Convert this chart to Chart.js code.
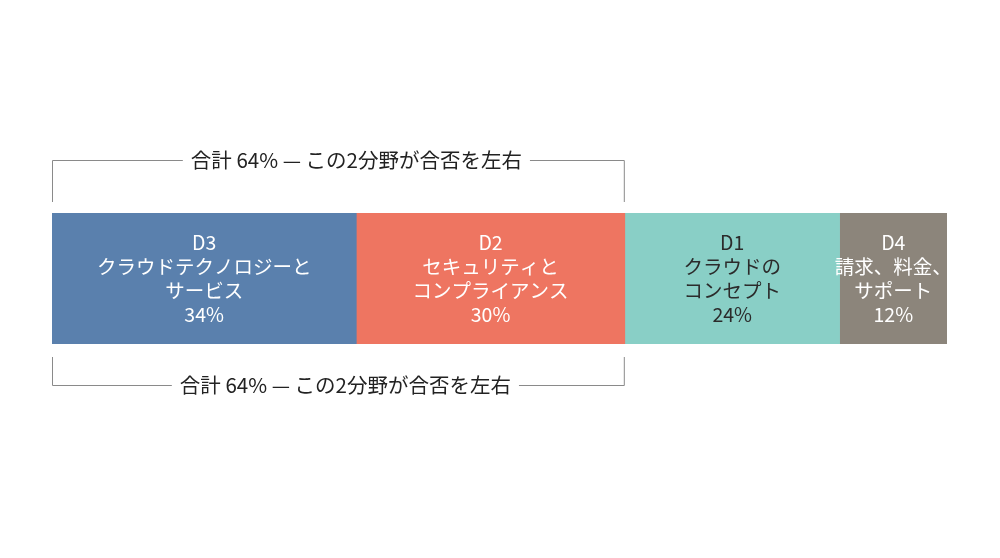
<!DOCTYPE html>
<html>
<head>
<meta charset="utf-8">
<script src="https://cdn.jsdelivr.net/npm/chart.js@4"></script>
<style>
  body { margin: 0; background: #fff; }
  #wrap { width: 1000px; height: 558px; position: relative; }
</style>
</head>
<body>
<div id="wrap"><canvas id="myChart"></canvas></div>
<script>
const ctx = document.getElementById("myChart");

const codes = ["D3", "D2", "D1", "D4"];
const names = [
  ["クラウドテクノロジーと", "サービス"],
  ["セキュリティと", "コンプライアンス"],
  ["クラウドの", "コンセプト"],
  ["請求、料金、", "サポート"],
];
const shares = [34, 30, 24, 12];
const colors = ["#5a80ad", "#ee7561", "#89cfc6", "#8c857b"];
const textColors = ["#ffffff", "#ffffff", "#2b2b2b", "#ffffff"];
const bracketText = "合計 64% — この2分野が合否を左右";
const bracketTotal = 64;

const FONT = '"Noto Sans CJK JP", "Noto Sans", sans-serif';

const labelPlugin = {
  id: "segmentLabels",
  afterDatasetsDraw(chart) {
    const c = chart.ctx;
    c.save();
    c.font = "19.5px " + FONT;
    c.textAlign = "center";
    c.textBaseline = "middle";
    chart.data.datasets.forEach((ds, i) => {
      const bar = chart.getDatasetMeta(i).data[0];
      const cx = (bar.x + bar.base) / 2;
      const lines = [codes[i], ...names[i], shares[i] + "%"];
      const lh = 24;
      const y0 = bar.y - (lh * (lines.length - 1)) / 2;
      c.fillStyle = textColors[i];
      lines.forEach((t, k) => c.fillText(t, cx, y0 + k * lh));
    });
    c.restore();
  },
};

const bracketPlugin = {
  id: "brackets",
  afterDraw(chart) {
    const c = chart.ctx;
    const x = chart.scales.x;
    const area = chart.chartArea;
    const x0 = x.getPixelForValue(0);
    const x1 = x.getPixelForValue(bracketTotal);
    c.save();
    c.font = "20.5px " + FONT;
    c.textAlign = "center";
    c.textBaseline = "middle";
    c.strokeStyle = "#8a8a8a";
    c.lineWidth = 1;
    const drawOne = (yLine, yTick, tx) => {
      const w = c.measureText(bracketText).width;
      c.beginPath();
      c.moveTo(x0 + 0.5, yTick);
      c.lineTo(x0 + 0.5, yLine + 0.5);
      c.lineTo(tx - w / 2 - 8, yLine + 0.5);
      c.moveTo(tx + w / 2 + 8, yLine + 0.5);
      c.lineTo(x1 - 0.5, yLine + 0.5);
      c.lineTo(x1 - 0.5, yTick);
      c.stroke();
      c.fillStyle = "#222222";
      c.fillText(bracketText, tx, yLine);
    };
    drawOne(area.top - 53, area.top - 11, (x0 + x1) / 2 + 18);
    drawOne(area.bottom + 41, area.bottom + 13, (x0 + x1) / 2 + 7);
    c.restore();
  },
};

const data = {
  labels: [""],
  datasets: shares.map((v, i) => ({
    label: codes[i],
    data: [v],
    backgroundColor: colors[i],
    borderWidth: 0,
    barPercentage: 1,
    categoryPercentage: 1,
  })),
};

const config = {
  type: "bar",
  data: data,
  options: {
    indexAxis: "y",
    responsive: true,
    maintainAspectRatio: false,
    animation: false,
    layout: {
      padding: { left: 52, right: 53, top: 213, bottom: 214 },
    },
    plugins: {
      legend: { display: false },
      tooltip: { enabled: false },
    },
    scales: {
      x: { stacked: true, min: 0, max: 100, display: false },
      y: { stacked: true, display: false },
    },
  },
  plugins: [labelPlugin, bracketPlugin],
};

new Chart(ctx, config);
</script>
</body>
</html>
